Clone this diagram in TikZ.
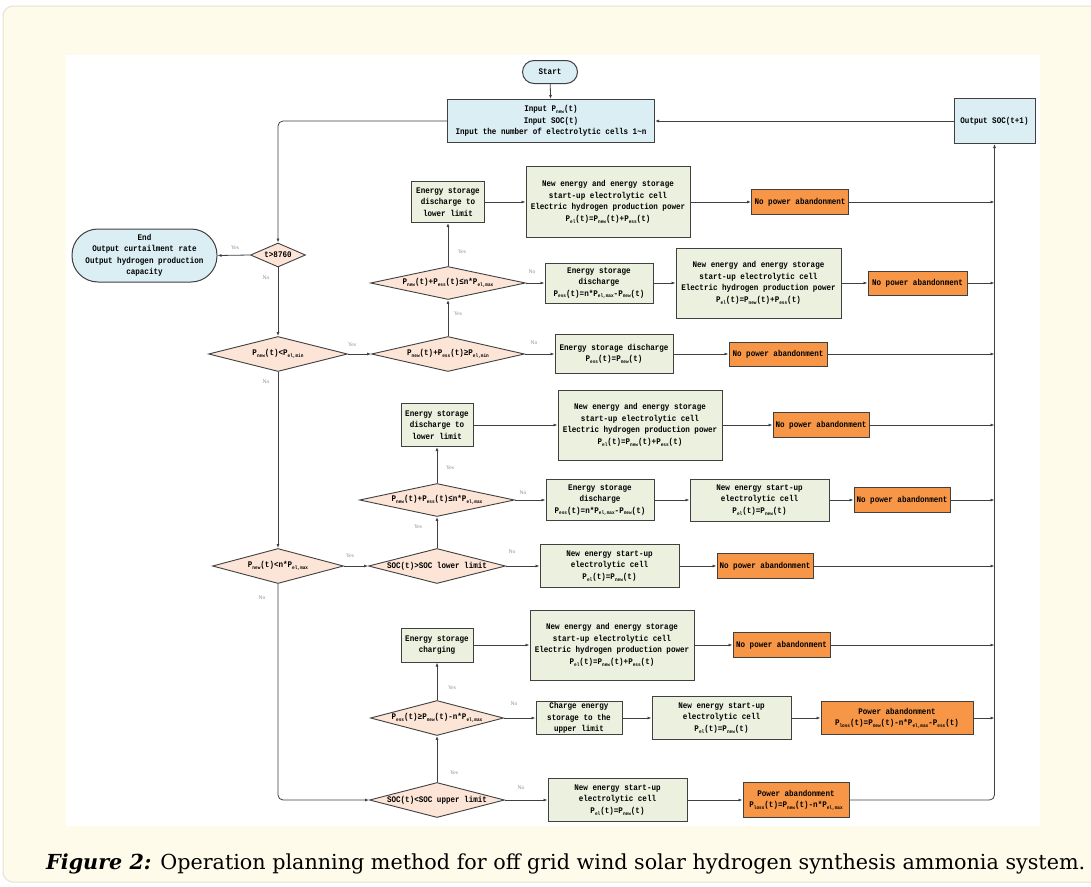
\documentclass[tikz,border=0pt]{standalone}
\usepackage{fontspec}
\setmainfont{Liberation Serif}
\newfontfamily\boxfont[FakeStretch=0.88]{Liberation Mono}
\newfontfamily\capfont{DejaVu Serif}
\usetikzlibrary{shapes.geometric,arrows.meta}

\definecolor{cream}{HTML}{FFFBEA}
\definecolor{frameg}{HTML}{E4E1D6}
\definecolor{boxgreen}{HTML}{EBF1DE}
\definecolor{boxblue}{HTML}{DBEEF4}
\definecolor{boxorange}{HTML}{F79646}
\definecolor{dpeach}{HTML}{FCE4D6}
\definecolor{linec}{HTML}{404040}
\definecolor{labg}{HTML}{8C8C8C}

\newcommand{\subx}[1]{\raisebox{-0.35ex}{\fontsize{5}{5}\selectfont #1}}
\newcommand{\qPn}{P\subx{new}}
\newcommand{\qPe}{P\subx{ess}}
\newcommand{\qPl}{P\subx{el}}
\newcommand{\qPmax}{P\subx{el,max}}
\newcommand{\qPmin}{P\subx{el,min}}
\newcommand{\qPloss}{P\subx{loss}}
\newcommand{\bigtxt}{New energy and energy storage\\start-up electrolytic cell\\Electric hydrogen production power\\\qPl(t)=\qPn(t)+\qPe(t)}
\newcommand{\newtxt}{New energy start-up\\electrolytic cell\\\qPl(t)=\qPn(t)}

\tikzset{
  every node/.style={font=\boxfont\bfseries\fontsize{8.6}{11.5}\selectfont, inner sep=0pt, align=center, text=black},
  gbox/.style={rectangle, draw=linec, line width=1pt, fill=boxgreen},
  bbox/.style={rectangle, draw=linec, line width=1pt, fill=boxblue},
  obox/.style={rectangle, draw=linec, line width=1pt, fill=boxorange},
  dec/.style={diamond, aspect=1, draw=linec, line width=0.9pt, fill=dpeach},
  conn/.style={draw=linec, line width=0.8pt, -{Latex[length=4pt,width=3pt]}},
  lab/.style={font=\rmfamily\fontsize{5.5}{6}\selectfont, text=labg},
}

\begin{document}
\begin{tikzpicture}[x=1pt,y=-1pt]
\useasboundingbox (0,0) rectangle (1091,886);
% background
\fill[white] (0,0) rectangle (1091,886);
\filldraw[fill=cream, draw=frameg, line width=1pt, rounded corners=10pt] (3,6) rectangle (1110,882);
\fill[white] (66,55) rectangle (1040,826);

% top
\node[bbox, rounded corners=11.5pt, minimum width=55pt, minimum height=23pt] (St) at (550,72) {Start};
\node[bbox, minimum width=207pt, minimum height=43pt] (In) at (551,121) {Input \qPn(t)\\Input SOC(t)\\Input the number of electrolytic cells 1\textasciitilde n};
\node[bbox, minimum width=81pt, minimum height=45pt] (Out) at (994.5,121) {Output SOC(t+1)};
\node[bbox, rounded corners=26pt, minimum width=145pt, minimum height=53pt] (End) at (144.5,255.5) {End\\Output curtailment rate\\Output hydrogen production\\capacity};
\node[dec, minimum width=55pt, minimum height=24pt] (T) at (278,255) {\makebox[0pt]{t>8760}};

% row A
\node[gbox, minimum width=73pt, minimum height=41pt] (B0) at (448,202) {Energy storage\\discharge to\\lower limit};
\node[gbox, minimum width=164pt, minimum height=71pt] (B1) at (608,202) {\bigtxt};
\node[obox, minimum width=97pt, minimum height=25pt] (O1) at (800,202) {No power abandonment};
% row B
\node[dec, minimum width=155pt, minimum height=33pt] (D3) at (448,283) {\makebox[0pt]{\qPn(t)+\qPe(t)≤n*\qPmax}};
\node[gbox, minimum width=108pt, minimum height=40pt] (B2) at (599,283) {Energy storage\\discharge\\\qPe(t)=n*\qPmax-\qPn(t)};
\node[gbox, minimum width=165pt, minimum height=70pt] (B3) at (758.5,283) {\bigtxt};
\node[obox, minimum width=99pt, minimum height=24pt] (O2) at (917.5,283) {No power abandonment};
% row C
\node[dec, minimum width=139pt, minimum height=35pt] (D1) at (278,354) {\makebox[0pt]{\qPn(t)<\qPmin}};
\node[dec, minimum width=153pt, minimum height=35pt] (D2) at (448,354) {\makebox[0pt]{\qPn(t)+\qPe(t)≥\qPmin}};
\node[gbox, minimum width=118pt, minimum height=39pt] (B4) at (614,354) {Energy storage discharge\\\qPe(t)=\qPn(t)};
\node[obox, minimum width=98pt, minimum height=24pt] (O3) at (778,354) {No power abandonment};
% row D
\node[gbox, minimum width=72pt, minimum height=43pt] (B5) at (437,425) {Energy storage\\discharge to\\lower limit};
\node[gbox, minimum width=164pt, minimum height=70pt] (B6) at (640,425) {\bigtxt};
\node[obox, minimum width=96pt, minimum height=25pt] (O4) at (821,425) {No power abandonment};
% row E
\node[dec, minimum width=155pt, minimum height=33pt] (D4) at (437,500) {\makebox[0pt]{\qPn(t)+\qPe(t)≤n*\qPmax}};
\node[gbox, minimum width=108pt, minimum height=41pt] (B7) at (600,500) {Energy storage\\discharge\\\qPe(t)=n*\qPmax-\qPn(t)};
\node[gbox, minimum width=139pt, minimum height=42pt] (B8) at (759.5,500) {\newtxt};
\node[obox, minimum width=96pt, minimum height=25pt] (O5) at (902,500) {No power abandonment};
% row F
\node[dec, minimum width=131pt, minimum height=35pt] (D5) at (278,566) {\makebox[0pt]{\qPn(t)<n*\qPmax}};
\node[dec, minimum width=137pt, minimum height=35pt] (D6) at (437,566) {\makebox[0pt]{SOC(t)>SOC lower limit}};
\node[gbox, minimum width=139pt, minimum height=43pt] (B9) at (609.5,566) {\newtxt};
\node[obox, minimum width=96pt, minimum height=25pt] (O6) at (765,566) {No power abandonment};
% row G
\node[gbox, minimum width=72pt, minimum height=34pt] (B10) at (437,645) {Energy storage\\charging};
\node[gbox, minimum width=164pt, minimum height=70pt] (B11) at (612,645) {\bigtxt};
\node[obox, minimum width=97pt, minimum height=25pt] (O7) at (781.5,645) {No power abandonment};
% row H
\node[dec, minimum width=133pt, minimum height=35pt] (D7) at (437,718) {\makebox[0pt]{\qPe(t)≥\qPn(t)-n*\qPmax}};
\node[gbox, minimum width=86pt, minimum height=33pt] (B12) at (579,718) {Charge energy\\storage to the\\upper limit};
\node[gbox, minimum width=139pt, minimum height=43pt] (B13) at (721.5,718) {\newtxt};
\node[obox, minimum width=152pt, minimum height=33pt] (O8) at (897,718) {Power abandonment\\\qPloss(t)=\qPn(t)-n*\qPmax-\qPe(t)};
% row I
\node[dec, minimum width=135pt, minimum height=35pt] (D8) at (437,800) {\makebox[0pt]{SOC(t)<SOC upper limit}};
\node[gbox, minimum width=139pt, minimum height=43pt] (B14) at (617.5,800) {\newtxt};
\node[obox, minimum width=106pt, minimum height=35pt] (O9) at (796,800) {Power abandonment\\\qPloss(t)=\qPn(t)-n*\qPmax};

% connectors
\draw[conn] (St) -- (In);
\draw[conn] (Out.west) -- (Out.west -| In.east);
\draw[conn, rounded corners=5pt] (In.west) -| (T.north);
\draw[conn] (T.west) -- (End.east);
\draw[conn] (T.south) -- (D1.north);
\draw[conn] (D1.east) -- (D2.west);
\draw[conn] (D2.north) -- (D3.south);
\draw[conn] (D3.north) -- (B0.south);
\draw[conn] (B0) -- (B1);
\draw[conn] (B1) -- (O1);
\draw[conn] (O1.east) -- (O1.east -| Out.south);
\draw[conn] (D3.east) -- (B2.west);
\draw[conn] (B2) -- (B3);
\draw[conn] (B3) -- (O2);
\draw[conn] (O2.east) -- (O2.east -| Out.south);
\draw[conn] (D2.east) -- (B4.west);
\draw[conn] (B4) -- (O3);
\draw[conn] (O3.east) -- (O3.east -| Out.south);
\draw[conn] (D1.south) -- (D5.north);
\draw[conn] (D5.east) -- (D6.west);
\draw[conn] (D6.north) -- (D4.south);
\draw[conn] (D4.north) -- (B5.south);
\draw[conn] (B5) -- (B6);
\draw[conn] (B6) -- (O4);
\draw[conn] (O4.east) -- (O4.east -| Out.south);
\draw[conn] (D4.east) -- (B7.west);
\draw[conn] (B7) -- (B8);
\draw[conn] (B8) -- (O5);
\draw[conn] (O5.east) -- (O5.east -| Out.south);
\draw[conn] (D6.east) -- (B9.west);
\draw[conn] (B9) -- (O6);
\draw[conn] (O6.east) -- (O6.east -| Out.south);
\draw[conn, rounded corners=5pt] (D5.south) |- (D8.west);
\draw[conn] (D8.north) -- (D7.south);
\draw[conn] (D7.north) -- (B10.south);
\draw[conn] (B10) -- (B11);
\draw[conn] (B11) -- (O7);
\draw[conn] (O7.east) -- (O7.east -| Out.south);
\draw[conn] (D7.east) -- (B12.west);
\draw[conn] (B12) -- (B13);
\draw[conn] (B13) -- (O8);
\draw[conn] (O8.east) -- (O8.east -| Out.south);
\draw[conn] (D8.east) -- (B14.west);
\draw[conn] (B14) -- (O9);
\draw[conn, rounded corners=5pt] (O9.east) -| (Out.south);

% labels
\node[lab] (l1) at (235,248) {Yes};
\node[lab] (l2) at (266,278) {No};
\node[lab] (l3) at (352,345) {Yes};
\node[lab] (l4) at (266,382) {No};
\node[lab] (l5) at (458,314) {Yes};
\node[lab] (l6) at (462,252) {Yes};
\node[lab] (l7) at (532,272) {No};
\node[lab] (l8) at (534,343) {No};
\node[lab] (l9) at (450,468) {Yes};
\node[lab] (l10) at (418,527) {Yes};
\node[lab] (l11) at (523,493) {No};
\node[lab] (l12) at (350,556) {Yes};
\node[lab] (l13) at (512,552) {No};
\node[lab] (l14) at (262,598) {No};
\node[lab] (l15) at (452,688) {Yes};
\node[lab] (l16) at (514,704) {No};
\node[lab] (l17) at (454,773) {Yes};
\node[lab] (l18) at (521,788) {No};

% caption
\node[anchor=base west, font=\capfont] (cap) at (46,869) {\resizebox{1039pt}{!}{\capfont\fontsize{17}{20}\selectfont\textbf{\textit{Figure 2:}} Operation planning method for off grid wind solar hydrogen synthesis ammonia system.}};
\end{tikzpicture}
\end{document}
